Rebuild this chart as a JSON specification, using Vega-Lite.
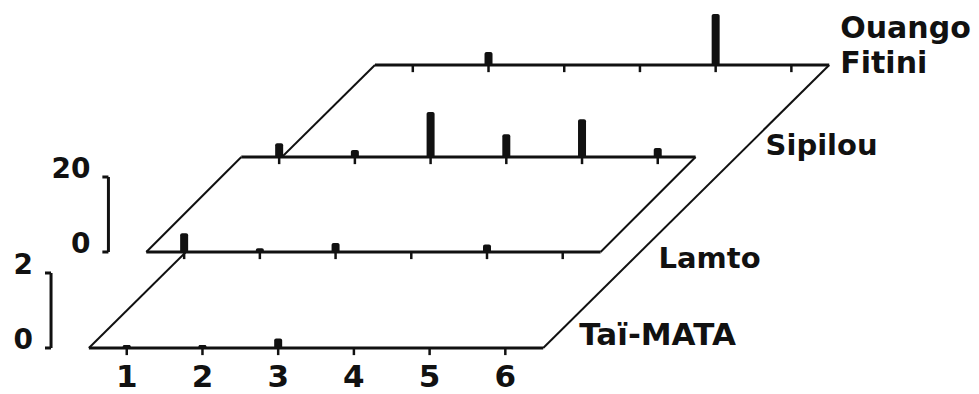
{
  "$schema": "https://vega.github.io/schema/vega-lite/v6.json",
  "width": 979,
  "height": 394,
  "autosize": {"type": "fit", "contains": "padding"},
  "padding": 0,
  "background": "white",
  "config": {"view": {"stroke": null}},
  "data": {
    "values": [
      {"kind": "bar", "site": "Taï-MATA", "cls": 1, "value": 0.08},
      {"kind": "bar", "site": "Taï-MATA", "cls": 2, "value": 0.08},
      {"kind": "bar", "site": "Taï-MATA", "cls": 3, "value": 0.25},
      {"kind": "bar", "site": "Lamto", "cls": 1, "value": 5},
      {"kind": "bar", "site": "Lamto", "cls": 2, "value": 1},
      {"kind": "bar", "site": "Lamto", "cls": 3, "value": 2.4},
      {"kind": "bar", "site": "Lamto", "cls": 5, "value": 2},
      {"kind": "bar", "site": "Sipilou", "cls": 1, "value": 3.7},
      {"kind": "bar", "site": "Sipilou", "cls": 2, "value": 1.9},
      {"kind": "bar", "site": "Sipilou", "cls": 3, "value": 12},
      {"kind": "bar", "site": "Sipilou", "cls": 4, "value": 6.1},
      {"kind": "bar", "site": "Sipilou", "cls": 5, "value": 10.1},
      {"kind": "bar", "site": "Sipilou", "cls": 6, "value": 2.4},
      {"kind": "bar", "site": "Ouango-Fitini", "cls": 2, "value": 3.5},
      {"kind": "bar", "site": "Ouango-Fitini", "cls": 5, "value": 13.6},
      {"kind": "tick", "site": "Taï-MATA", "cls": 1},
      {"kind": "tick", "site": "Taï-MATA", "cls": 2},
      {"kind": "tick", "site": "Taï-MATA", "cls": 3},
      {"kind": "tick", "site": "Taï-MATA", "cls": 4},
      {"kind": "tick", "site": "Taï-MATA", "cls": 5},
      {"kind": "tick", "site": "Taï-MATA", "cls": 6},
      {"kind": "tick", "site": "Lamto", "cls": 1},
      {"kind": "tick", "site": "Lamto", "cls": 2},
      {"kind": "tick", "site": "Lamto", "cls": 3},
      {"kind": "tick", "site": "Lamto", "cls": 4},
      {"kind": "tick", "site": "Lamto", "cls": 5},
      {"kind": "tick", "site": "Lamto", "cls": 6},
      {"kind": "tick", "site": "Sipilou", "cls": 1},
      {"kind": "tick", "site": "Sipilou", "cls": 2},
      {"kind": "tick", "site": "Sipilou", "cls": 3},
      {"kind": "tick", "site": "Sipilou", "cls": 4},
      {"kind": "tick", "site": "Sipilou", "cls": 5},
      {"kind": "tick", "site": "Sipilou", "cls": 6},
      {"kind": "tick", "site": "Ouango-Fitini", "cls": 1},
      {"kind": "tick", "site": "Ouango-Fitini", "cls": 2},
      {"kind": "tick", "site": "Ouango-Fitini", "cls": 3},
      {"kind": "tick", "site": "Ouango-Fitini", "cls": 4},
      {"kind": "tick", "site": "Ouango-Fitini", "cls": 5},
      {"kind": "tick", "site": "Ouango-Fitini", "cls": 6},
      {"kind": "frame", "site": "Taï-MATA", "cls": 0.5},
      {"kind": "frame", "site": "Taï-MATA", "cls": 6.5},
      {"kind": "frame", "site": "Lamto", "cls": 0.5},
      {"kind": "frame", "site": "Lamto", "cls": 6.5},
      {"kind": "frame", "site": "Sipilou", "cls": 0.5},
      {"kind": "frame", "site": "Sipilou", "cls": 6.5},
      {"kind": "frame", "site": "Ouango-Fitini", "cls": 0.5},
      {"kind": "frame", "site": "Ouango-Fitini", "cls": 6.5},
      {"kind": "scale", "site": "Lamto", "value": 0},
      {"kind": "scale", "site": "Lamto", "value": 20},
      {"kind": "scale", "site": "Taï-MATA", "value": 0},
      {"kind": "scale", "site": "Taï-MATA", "value": 2}
    ]
  },
  "transform": [
    {"calculate": "datum.site==='Lamto'?0.758:datum.site==='Sipilou'?2.013:datum.site==='Ouango-Fitini'?3.778:0", "as": "du"},
    {"calculate": "datum.site==='Lamto'?37.87:datum.site==='Sipilou'?63.2:datum.site==='Ouango-Fitini'?87.73:12.27", "as": "v0"},
    {"calculate": "datum.site==='Taï-MATA'?10:1", "as": "k"},
    {"calculate": "(isValid(datum.cls)?datum.cls:0) + datum.du", "as": "u"},
    {"calculate": "datum.v0 + (isValid(datum.value)?datum.value:0)*datum.k", "as": "v"}
  ],
  "encoding": {
    "x": {"field": "u", "type": "quantitative", "scale": {"domain": [-0.608, 12.19], "nice": false, "zero": false}, "axis": null},
    "y": {"field": "v", "type": "quantitative", "scale": {"domain": [0, 105.07], "nice": false, "zero": false}, "axis": null}
  },
  "layer": [
    {
      "transform": [{"filter": "datum.kind==='frame' && (datum.site==='Taï-MATA' || datum.site==='Ouango-Fitini')"}],
      "mark": {"type": "line", "color": "#111", "strokeWidth": 2},
      "encoding": {"detail": {"field": "cls"}}
    },
    {
      "transform": [
        {"filter": "datum.kind==='frame' && datum.cls===0.5 && (datum.site==='Lamto' || datum.site==='Sipilou')"},
        {"calculate": "datum.u + 6", "as": "u2"}
      ],
      "mark": {"type": "area", "orient": "horizontal", "color": "white", "opacity": 1},
      "encoding": {"x2": {"field": "u2"}}
    },
    {
      "transform": [{"filter": "datum.kind==='frame' && (datum.site==='Lamto' || datum.site==='Sipilou')"}],
      "mark": {"type": "line", "color": "#111", "strokeWidth": 2},
      "encoding": {"detail": {"field": "cls"}}
    },
    {
      "transform": [{"filter": "datum.kind==='frame'"}],
      "mark": {"type": "line", "color": "#111", "strokeWidth": 3},
      "encoding": {"detail": {"field": "site"}}
    },
    {
      "transform": [{"filter": "datum.kind==='tick'"}, {"calculate": "datum.v - 1.9", "as": "v2"}],
      "mark": {"type": "rule", "color": "#111", "strokeWidth": 2.5},
      "encoding": {"y2": {"field": "v2"}}
    },
    {
      "transform": [{"filter": "datum.kind==='bar'"}],
      "mark": {"type": "bar", "orient": "vertical", "width": 8, "color": "#111", "cornerRadiusTopLeft": 2, "cornerRadiusTopRight": 2},
      "encoding": {"y2": {"field": "v0"}}
    },
    {
      "transform": [{"filter": "datum.kind==='scale'"}],
      "mark": {"type": "line", "color": "#111", "strokeWidth": 3},
      "encoding": {"detail": {"field": "site"}}
    },
    {
      "transform": [{"filter": "datum.kind==='scale'"}, {"calculate": "datum.u - 0.08", "as": "u2"}],
      "mark": {"type": "rule", "color": "#111", "strokeWidth": 3},
      "encoding": {"x2": {"field": "u2"}}
    },
    {
      "transform": [{"filter": "datum.kind==='scale'"}],
      "mark": {"type": "text", "align": "right", "baseline": "alphabetic", "dx": -18, "dy": 1, "font": "DejaVu Sans", "fontWeight": "bold", "fontSize": 28, "color": "#111"},
      "encoding": {"text": {"field": "value", "type": "quantitative"}}
    },
    {
      "transform": [{"filter": "datum.kind==='tick' && datum.site==='Taï-MATA'"}],
      "mark": {"type": "text", "align": "center", "baseline": "alphabetic", "dy": 39, "font": "DejaVu Sans", "fontWeight": "bold", "fontSize": 31, "color": "#111"},
      "encoding": {"text": {"field": "cls", "type": "quantitative"}}
    },
    {
      "transform": [{"filter": "datum.kind==='frame' && datum.cls===6.5 && datum.site==='Ouango-Fitini'"}],
      "mark": {"type": "text", "align": "left", "baseline": "middle", "lineBreak": "-", "lineHeight": 35, "dx": 11, "dy": -36, "font": "DejaVu Sans", "fontWeight": "bold", "fontSize": 30, "color": "#111"},
      "encoding": {"text": {"field": "site"}}
    },
    {
      "transform": [{"filter": "datum.kind==='frame' && datum.cls===6.5 && datum.site==='Sipilou'"}],
      "mark": {"type": "text", "align": "left", "baseline": "alphabetic", "dx": 70, "dy": -2, "font": "DejaVu Sans", "fontWeight": "bold", "fontSize": 29, "color": "#111"},
      "encoding": {"text": {"field": "site"}}
    },
    {
      "transform": [{"filter": "datum.kind==='frame' && datum.cls===6.5 && datum.site==='Lamto'"}],
      "mark": {"type": "text", "align": "left", "baseline": "alphabetic", "dx": 58, "dy": 16, "font": "DejaVu Sans", "fontWeight": "bold", "fontSize": 29, "color": "#111"},
      "encoding": {"text": {"field": "site"}}
    },
    {
      "transform": [{"filter": "datum.kind==='frame' && datum.cls===6.5 && datum.site==='Taï-MATA'"}],
      "mark": {"type": "text", "align": "left", "baseline": "alphabetic", "dx": 36, "dy": -3, "font": "DejaVu Sans", "fontWeight": "bold", "fontSize": 31, "color": "#111"},
      "encoding": {"text": {"field": "site"}}
    }
  ]
}
